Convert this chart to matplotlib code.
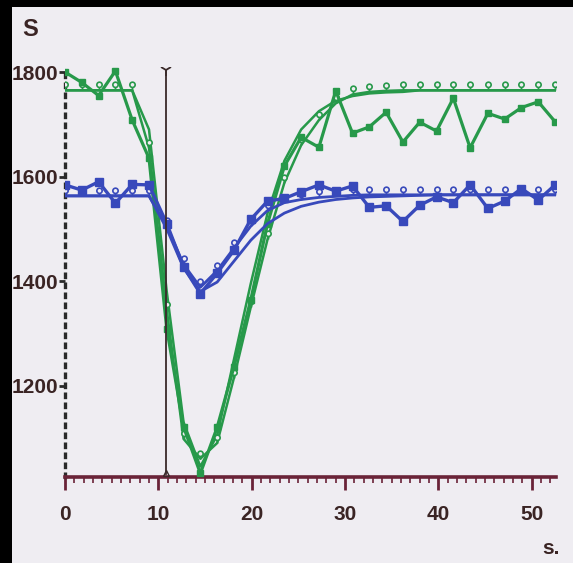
import numpy as np
import matplotlib.pyplot as plt
from matplotlib.path import Path
from matplotlib.patches import Rectangle

# sampling times (s)
time = [0, 1.8, 3.6, 5.4, 7.2, 9.0, 10.9, 12.7, 14.5, 16.3, 18.1, 19.9, 21.7, 23.5,
        25.3, 27.2, 29.0, 30.8, 32.6, 34.4, 36.2, 38.0, 39.8, 41.6, 43.4, 45.3,
        47.1, 48.9, 50.7, 52.5]

# green: measured, model, fitted
green_meas = [1800, 1780, 1755, 1802, 1708, 1635, 1309, 1121, 1032, 1120, 1236, 1364,
              1510, 1620, 1675, 1656, 1764, 1683, 1695, 1723, 1666, 1704, 1687, 1750,
              1655, 1721, 1710, 1732, 1743, 1705]
green_model = [1765, 1765, 1765, 1765, 1765, 1655, 1345, 1098, 1060, 1090, 1215, 1350,
               1480, 1588, 1660, 1708, 1740, 1757, 1762, 1764, 1765, 1765, 1765, 1765,
               1765, 1765, 1765, 1765, 1765, 1765]
green_fit = [1765, 1765, 1765, 1765, 1765, 1690, 1380, 1130, 1045, 1105, 1250, 1395,
             1530, 1630, 1690, 1725, 1745, 1754, 1759, 1761, 1762, 1765, 1765, 1765,
             1765, 1765, 1765, 1765, 1765, 1765]

# blue: measured, model, fitted
blue_meas = [1584, 1574, 1590, 1549, 1585, 1584, 1510, 1427, 1376, 1415, 1459, 1518,
             1553, 1558, 1571, 1584, 1572, 1582, 1541, 1544, 1514, 1545, 1561, 1550,
             1584, 1539, 1553, 1577, 1555, 1584]
blue_model = [1563, 1563, 1563, 1563, 1563, 1563, 1505, 1432, 1388, 1420, 1463, 1505,
              1535, 1550, 1556, 1560, 1562, 1564, 1565, 1565, 1565, 1565, 1565, 1565,
              1565, 1565, 1565, 1565, 1565, 1565]
blue_fit = [1563, 1563, 1563, 1563, 1563, 1563, 1500, 1425, 1380, 1398, 1438, 1478,
            1510, 1530, 1543, 1551, 1556, 1559, 1561, 1562, 1563, 1564, 1565, 1565,
            1565, 1565, 1565, 1565, 1565, 1565]

cursor_t = 10.8
x_ticks = [0, 10, 20, 30, 40, 50]
y_ticks = [1200, 1400, 1600, 1800]

GREEN = '#27994a'
BLUE = '#3849bb'
AXIS = '#6a2338'
TXT = '#3a2424'
BG = '#efedf2'

# open circle sitting on a short stem (data point at the stem foot)
stem = Path([(0, 0), (0, 0.8)], [Path.MOVETO, Path.LINETO])
lolly = Path.make_compound_path(stem, Path.circle((0, 1.5), 0.7))

plt.rcParams['font.family'] = ['Liberation Sans', 'DejaVu Sans']

fig = plt.figure(figsize=(5.73, 5.63), dpi=100, facecolor='black')
fig.patches.append(Rectangle((12 / 573, 0), 561 / 573, 556 / 563,
                             transform=fig.transFigure, facecolor=BG,
                             edgecolor='none', zorder=-10))
ax = fig.add_axes([65 / 573, 86 / 563, 491 / 573, 410.2 / 563])
ax.set_facecolor('none')

ax.plot(time, green_fit, color=GREEN, lw=1.8, zorder=2)
ax.plot(time, green_model, color=GREEN, lw=1.8, marker=lolly, ms=12,
        mfc=BG, mec=GREEN, mew=1.2, zorder=3)
ax.plot(time, green_meas, color=GREEN, lw=2.3, marker='s', ms=5, zorder=4)

ax.plot(time, blue_fit, color=BLUE, lw=2.0, zorder=5)
ax.plot(time, blue_model, color=BLUE, lw=2.0, marker=lolly, ms=12,
        mfc=BG, mec=BLUE, mew=1.2, zorder=6)
ax.plot(time, blue_meas, color=BLUE, lw=2.4, marker='s', ms=5.5, zorder=7)

# cursor
ax.plot([cursor_t, cursor_t], [1030, 1800], color='#3a2a2a', lw=1.3, zorder=8)
ax.plot([cursor_t], [1803], marker='1', ms=9, color='#3a2a2a', mew=1.3, zorder=8)
ax.plot([cursor_t], [1032], marker='^', ms=5, mfc='none', mec='#3a2a2a', zorder=8)

ax.set_xlim(0, 52.6)
ax.set_ylim(1025, 1810)

for s in ['top', 'right']:
    ax.spines[s].set_visible(False)
ax.spines['bottom'].set_color(AXIS)
ax.spines['bottom'].set_linewidth(2.6)
ax.spines['left'].set_color('#2a2a2a')
ax.spines['left'].set_linewidth(2.4)
ax.spines['left'].set_linestyle((0, (1, 2)))
ax.spines['left'].set_bounds(1025, 1800)

ax.set_xticks(x_ticks)
ax.set_xticks(np.arange(0, 53, 1), minor=True)
ax.set_yticks(y_ticks)
ax.tick_params(axis='x', which='major', direction='out', length=9, width=2,
               color=AXIS, pad=11, labelsize=15, labelcolor=TXT)
ax.tick_params(axis='x', which='minor', direction='out', length=4, width=1.2,
               color=AXIS)
ax.tick_params(axis='y', which='major', direction='out', length=4, width=2,
               color='#2a2a2a', pad=1, labelsize=15, labelcolor=TXT)
for lab in ax.get_xticklabels() + ax.get_yticklabels():
    lab.set_fontweight('bold')

fig.text(30 / 573, 1 - 30 / 563, 'S', fontsize=17, fontweight='bold', color=TXT,
         ha='center', va='center')
fig.text(551 / 573, 1 - 548 / 563, 's.', fontsize=15, fontweight='bold', color=TXT,
         ha='center', va='center')

fig.savefig('out.png', dpi=100, facecolor=fig.get_facecolor())
